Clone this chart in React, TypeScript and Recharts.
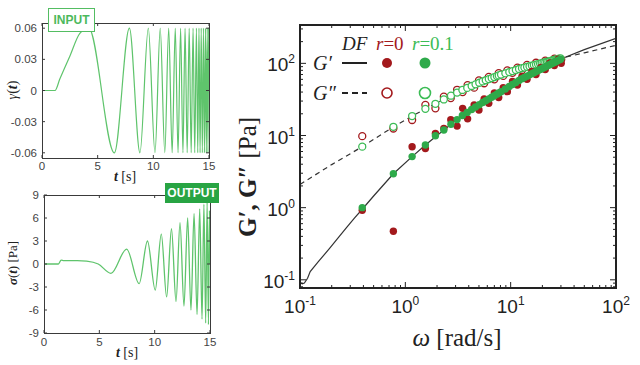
import {
  LineChart,
  Line,
  ScatterChart,
  Scatter,
  XAxis,
  YAxis,
} from 'recharts'

const SANS = '"Liberation Sans", Arial, sans-serif'
const SERIF = '"Liberation Serif", "Times New Roman", serif'

const TRACE = '#5fc46c'
const FRAME = '#3a3a3a'
const INK = '#222'
const RED = '#a3191c'
const GREEN = '#2eaa4a'
const GREEN_RING = '#3cbc55'

// imposed strain γ(t), chirp
const strainT = [
  0, 1.17, 1.6, 2.5, 3.4, 4.2, 6.5, 7.85, 8.8, 9.55, 10.15, 10.62, 11.03, 11.38, 11.69, 11.97,
  12.22, 12.45, 12.66, 12.85, 13.04, 13.22, 13.4, 13.57, 13.72, 13.87, 13.99, 14.1, 14.2, 14.3,
  14.4, 14.5, 14.59, 14.68, 14.76, 14.84, 14.91, 14.97, 15.0,
]
const strainV = [
  0, 0, 0.011, 0.033, 0.055, 0.06, -0.06, 0.06, -0.06, 0.06, -0.06, 0.06, -0.06, 0.06, -0.06, 0.06,
  -0.06, 0.06, -0.06, 0.06, -0.06, 0.06, -0.06, 0.06, -0.06, 0.06, -0.06, 0.06, -0.06, 0.06,
  -0.06, 0.06, -0.06, 0.06, -0.06, 0.06, -0.06, 0.06, 0,
]

// measured stress σ(t) [Pa]
const stressT = [
  0, 1.3, 1.55, 1.8, 3.0, 3.85, 4.9, 6.05, 7.47, 8.6, 9.35, 10.05, 10.6, 11.08, 11.52, 11.93,
  12.29, 12.65, 12.98, 13.28, 13.56, 13.83, 14.07, 14.28, 14.45, 14.61, 14.74, 14.86, 14.95, 15.0,
]
const stressV = [
  0, 0, 0.5, 0.45, 0.45, 0.38, 0, -1.22, 1.95, -2.55, 3.0, -3.4, 3.9, -4.3, 4.6, -4.9,
  5.4, -5.5, 6.0, -6.0, 6.6, -6.6, 7.2, -7.2, 7.8, -7.7, 8.1, -7.9, 7.0, 0,
]

const timeTicks = [0, 5, 10, 15]
const strainTicks = [-0.06, -0.03, 0, 0.03, 0.06]
const stressTicks = [-9, -6, -3, 0, 3, 6, 9]

// moduli from the chirp, r = 0.1
const omegaR01 = [
  0.39, 0.77, 1.16, 1.55, 1.93, 2.32, 2.71, 3.1, 3.48, 3.87, 4.26, 4.64, 5.03, 5.42, 5.8, 6.2,
  6.6, 7.0, 7.4, 7.7, 8.1, 8.9, 9.7, 10.4, 11.2, 12.0, 12.8, 13.5, 14.3, 15.1, 15.9, 16.6, 17.4,
  18.2, 19.0, 19.7, 20.5, 21.3, 22.1, 22.8, 23.6, 24.4, 25.2, 25.9, 26.7, 27.5, 28.3, 29.0, 29.8,
]
const gpR01 = [
  1.0, 2.95, 5.1, 7.4, 9.9, 11.9, 14.3, 16.6, 18.9, 20.9, 22.9, 24.8, 26.7, 28.6, 30.3, 32.1,
  33.9, 35.6, 37.4, 38.8, 40.5, 44.1, 47.8, 50.8, 54.4, 58.0, 61.2, 63.7, 66.5, 69.3, 72.0, 74.3,
  77.1, 79.6, 82.2, 84.3, 86.9, 89.3, 91.7, 93.9, 96.3, 98.6, 101.0, 103.0, 105.5, 107.7, 110.0,
  111.8, 114.0,
]
const gppR01 = [
  7.0, 13.2, 18.6, 23.4, 27.5, 31.6, 35.6, 39.4, 42.8, 45.7, 48.5, 51.2, 53.8, 56.2, 58.3, 60.5,
  62.6, 64.6, 66.6, 68.1, 69.8, 72.8, 75.8, 78.2, 80.9, 83.5, 85.8, 87.5, 89.4, 91.2, 93.0, 94.5,
  96.2, 97.7, 99.3, 100.6, 102.1, 103.6, 105.0, 106.2, 107.6, 108.9, 110.2, 111.3, 112.6, 113.8,
  115.0, 116.0, 117.3,
]

// moduli from the chirp, r = 0
const omegaR0 = [
  0.39, 0.77, 1.16, 1.55, 1.93, 2.32, 2.7, 3.1, 3.5, 3.9, 4.5, 5.0, 5.6, 6.2, 7.0, 7.7, 8.5, 9.3,
  10.4, 11.6, 12.8, 14.3, 15.9, 17.4, 19.4, 21.3, 23.6, 26.0, 28.3, 30.2,
]
const gpR0 = [
  0.92, 0.47, 7.0, 6.6, 10.7, 12.5, 16.5, 13.5, 23.8, 17.0, 26.5, 22.6, 32, 27.9, 39, 33.5, 46,
  40.5, 56, 50, 66, 60, 77, 70, 88, 82, 101, 93, 114, 100,
]
const gppR0 = [
  9.8, 12.5, 16.4, 26.5, 23.8, 34.5, 33, 43, 40, 50, 46, 58, 53, 65, 60, 73, 67, 80, 74, 87, 81,
  95, 88, 102, 95, 109, 102, 116, 108, 113,
]

// discrete frequency sweep (DF) reference
const dfOmegaGp = [
  0.1, 0.105, 0.11, 0.118, 0.125, 0.15, 0.19, 0.23, 0.28, 0.33, 0.39, 0.5, 0.77, 1.16, 1.55, 2.32,
  3.34, 5.2, 8, 12.5, 19.3, 30, 50, 100,
]
const dfGp = [
  0.092, 0.088, 0.09, 0.105, 0.13, 0.18, 0.27, 0.38, 0.54, 0.72, 0.95, 1.45, 2.95, 5.1, 7.4, 11.9,
  18.2, 27.5, 40, 60, 83, 115, 155, 222,
]
const dfOmegaGpp = [0.1, 0.2, 0.39, 0.77, 1.16, 1.55, 2.32, 3.34, 5.2, 8, 12.5, 19.3, 30, 50, 100]
const dfGpp = [2.1, 3.95, 7.0, 13.2, 18.6, 23.4, 31.6, 41.7, 55, 69, 85, 100, 118, 140, 178]

const omegaTicks = [
  0.1, 0.2, 0.3, 0.4, 0.5, 0.6, 0.7, 0.8, 0.9, 1, 2, 3, 4, 5, 6, 7, 8, 9, 10, 20, 30, 40, 50, 60,
  70, 80, 90, 100,
]
const modulusTicks = [
  0.08, 0.09, 0.1, 0.2, 0.3, 0.4, 0.5, 0.6, 0.7, 0.8, 0.9, 1, 2, 3, 4, 5, 6, 7, 8, 9, 10, 20, 30,
  40, 50, 60, 70, 80, 90, 100, 200, 300,
]

const series = (t: number[], v: number[]) => t.map((x, i) => ({ t: x, v: v[i] }))
const points = (w: number[], g: number[]) => w.map((x, i) => ({ w: x, g: g[i] }))

type TickProps = { x: number; y: number; payload: { value: number } }

// inward ticks on both sides of the frame, labels outside
const timeXTick = (plotH: number, labelDy: number) => ({ x, y, payload }: TickProps) => (
  <g>
    <line x1={x} x2={x} y1={y} y2={y - 3} stroke={FRAME} />
    <line x1={x} x2={x} y1={y - plotH} y2={y - plotH + 3} stroke={FRAME} />
    <text x={x} y={y + labelDy} textAnchor="middle" fontFamily={SANS} fontSize={11.5} fill="#444">
      {payload.value}
    </text>
  </g>
)

const timeYTick = (plotW: number) => ({ x, y, payload }: TickProps) => (
  <g>
    <line x1={x} x2={x + 3} y1={y} y2={y} stroke={FRAME} />
    <line x1={x + plotW} x2={x + plotW - 3} y1={y} y2={y} stroke={FRAME} />
    <text x={x - 5} y={y + 4} textAnchor="end" fontFamily={SANS} fontSize={11.5} fill="#444">
      {payload.value}
    </text>
  </g>
)

const LOG_W = 316
const LOG_H = 263

const decade = (v: number) => {
  const e = Math.round(Math.log10(v))
  return Math.abs(Math.log10(v) - e) < 1e-6 ? e : null
}

const logXTick = ({ x, y, payload }: TickProps) => {
  const e = decade(payload.value)
  const len = e === null ? 3 : 6
  return (
    <g>
      <line x1={x} x2={x} y1={y} y2={y - len} stroke={INK} />
      <line x1={x} x2={x} y1={y - LOG_H} y2={y - LOG_H + len} stroke={INK} />
      {e !== null && (
        <text x={x} y={y + 25} textAnchor="middle" fontFamily={SANS} fontSize={19} fill={INK}>
          10
          <tspan dy={-8} fontSize={12}>
            {e}
          </tspan>
        </text>
      )}
    </g>
  )
}

const logYTick = ({ x, y, payload }: TickProps) => {
  const e = decade(payload.value)
  const len = e === null ? 3 : 6
  return (
    <g>
      <line x1={x} x2={x + len} y1={y} y2={y} stroke={INK} />
      <line x1={x + LOG_W} x2={x + LOG_W - len} y1={y} y2={y} stroke={INK} />
      {e !== null && (
        <text x={x - 5} y={y + 8} textAnchor="end" fontFamily={SANS} fontSize={19} fill={INK}>
          10
          <tspan dy={-8} fontSize={12}>
            {e}
          </tspan>
        </text>
      )}
    </g>
  )
}

const dot = (fill: string) => (p: any) => <circle cx={p.cx} cy={p.cy} r={3.7} fill={fill} />
const ring = (stroke: string) => (p: any) => (
  <circle cx={p.cx} cy={p.cy} r={3.5} fill="#fff" stroke={stroke} strokeWidth={1.3} />
)
const none = () => <g />

function StrainChart() {
  return (
    <LineChart
      width={220}
      height={185}
      data={series(strainT, strainV)}
      margin={{ top: 23, right: 11, bottom: 0, left: 0 }}
    >
      <XAxis
        type="number"
        dataKey="t"
        domain={[0, 15]}
        ticks={timeTicks}
        interval={0}
        height={27}
        tickSize={0}
        tickMargin={0}
        tickLine={false}
        axisLine={false}
        tick={timeXTick(135, 12)}
      />
      <YAxis
        type="number"
        domain={[-0.065, 0.065]}
        ticks={strainTicks}
        interval={0}
        width={42}
        tickSize={0}
        tickMargin={0}
        tickLine={false}
        axisLine={false}
        tick={timeYTick(167)}
      />
      <Line
        type="monotone"
        dataKey="v"
        stroke={TRACE}
        strokeWidth={1.2}
        dot={false}
        isAnimationActive={false}
      />
    </LineChart>
  )
}

function StressChart() {
  return (
    <LineChart
      width={220}
      height={180}
      data={series(stressT, stressV)}
      margin={{ top: 10, right: 10, bottom: 0, left: 0 }}
    >
      <XAxis
        type="number"
        dataKey="t"
        domain={[0, 15]}
        ticks={timeTicks}
        interval={0}
        height={32}
        tickSize={0}
        tickMargin={0}
        tickLine={false}
        axisLine={false}
        tick={timeXTick(138, 13)}
      />
      <YAxis
        type="number"
        domain={[-9, 9]}
        ticks={stressTicks}
        interval={0}
        width={44}
        tickSize={0}
        tickMargin={0}
        tickLine={false}
        axisLine={false}
        tick={timeYTick(166)}
      />
      <Line
        type="monotone"
        dataKey="v"
        stroke={TRACE}
        strokeWidth={1.3}
        dot={false}
        isAnimationActive={false}
      />
    </LineChart>
  )
}

function ModulusChart() {
  return (
    <ScatterChart width={410} height={365} margin={{ top: 25, right: 24, bottom: 0, left: 0 }}>
      <XAxis
        type="number"
        dataKey="w"
        scale="log"
        domain={[0.1, 100]}
        allowDataOverflow
        ticks={omegaTicks}
        interval={0}
        height={77}
        tickSize={0}
        tickMargin={0}
        tickLine={false}
        axisLine={false}
        tick={logXTick}
      />
      <YAxis
        type="number"
        dataKey="g"
        scale="log"
        domain={[0.077, 340]}
        allowDataOverflow
        ticks={modulusTicks}
        interval={0}
        width={70}
        tickSize={0}
        tickMargin={0}
        tickLine={false}
        axisLine={false}
        tick={logYTick}
      />
      <Scatter
        data={points(dfOmegaGpp, dfGpp)}
        line={{ stroke: '#333', strokeWidth: 1.2, strokeDasharray: '5 4' }}
        shape={none}
        isAnimationActive={false}
      />
      <Scatter
        data={points(dfOmegaGp, dfGp)}
        line={{ stroke: '#333', strokeWidth: 1.2 }}
        shape={none}
        isAnimationActive={false}
      />
      <Scatter data={points(omegaR0, gppR0)} shape={ring(RED)} isAnimationActive={false} />
      <Scatter data={points(omegaR01, gppR01)} shape={ring(GREEN_RING)} isAnimationActive={false} />
      <Scatter data={points(omegaR0, gpR0)} shape={dot(RED)} isAnimationActive={false} />
      <Scatter data={points(omegaR01, gpR01)} shape={dot(GREEN)} isAnimationActive={false} />
    </ScatterChart>
  )
}

// key drawn in the upper-left corner of the moduli frame
function ModulusKey() {
  return (
    <svg width={200} height={90} style={{ position: 'absolute', left: 300, top: 25 }}>
      <g fontFamily={SERIF} fontSize={19}>
        <text x={42} y={25} fill={INK} fontStyle="italic">
          DF
        </text>
        <text x={76} y={25} fill={RED}>
          <tspan fontStyle="italic">r</tspan>=0
        </text>
        <text x={112} y={25} fill={GREEN_RING}>
          <tspan fontStyle="italic">r</tspan>=0.1
        </text>
        <text x={13} y={45} fill={INK} fontStyle="italic" fontSize={20}>
          G′
        </text>
        <text x={13} y={75} fill={INK} fontStyle="italic" fontSize={20}>
          G″
        </text>
      </g>
      <line x1={42} x2={67} y1={38} y2={38} stroke={INK} strokeWidth={2} />
      <circle cx={87} cy={38} r={5} fill={RED} />
      <circle cx={125} cy={38} r={5.5} fill={GREEN} />
      <line x1={42} x2={67} y1={68} y2={68} stroke={INK} strokeWidth={2} strokeDasharray="6 4" />
      <circle cx={87} cy={68} r={5} fill="#fff" stroke={RED} strokeWidth={1.6} />
      <circle cx={125} cy={68} r={5.5} fill="#fff" stroke={GREEN_RING} strokeWidth={1.6} />
    </svg>
  )
}

// plot frames around the three panels
const frame = (left: number, top: number, width: number, height: number, border: string) => (
  <div
    style={{
      position: 'absolute',
      left,
      top,
      width,
      height,
      boxSizing: 'border-box',
      border,
      pointerEvents: 'none',
    }}
  />
)

const centered = (left: number, top: number, rotate = false): React.CSSProperties => ({
  position: 'absolute',
  left,
  top,
  transform: `translate(-50%, -50%)${rotate ? ' rotate(-90deg)' : ''}`,
  whiteSpace: 'nowrap',
  fontFamily: SERIF,
  color: INK,
  lineHeight: 1,
})

export default function App() {
  return (
    <div
      style={{
        position: 'absolute',
        left: 0,
        top: 0,
        width: 640,
        height: 365,
        background: '#fff',
        overflow: 'hidden',
      }}
    >
      <div style={{ position: 'absolute', left: 0, top: 0 }}>
        <StrainChart />
      </div>
      <div style={{ position: 'absolute', left: 0, top: 185 }}>
        <StressChart />
      </div>
      <div style={{ position: 'absolute', left: 230, top: 0 }}>
        <ModulusChart />
      </div>
      <ModulusKey />

      {frame(42, 23, 168, 136, `1px solid ${FRAME}`)}
      {frame(44, 195, 167, 139, `1px solid ${FRAME}`)}
      {frame(299, 24, 318, 265, `2px solid ${INK}`)}

      <div style={{ ...centered(13, 90, true), fontSize: 14 }}>
        <i>γ</i>(<b><i>t</i></b>)
      </div>
      <div style={{ ...centered(125, 177), fontSize: 14 }}>
        <b><i>t</i></b> [s]
      </div>
      <div style={{ ...centered(12, 263, true), fontSize: 13 }}>
        <b><i>σ</i></b>(<b><i>t</i></b>) [Pa]
      </div>
      <div style={{ ...centered(127, 353), fontSize: 14 }}>
        <b><i>t</i></b> [s]
      </div>
      <div style={{ ...centered(247, 177, true), fontSize: 25 }}>
        <b>G′, G″</b> [Pa]
      </div>
      <div style={{ ...centered(457, 337), fontSize: 25 }}>
        <i>ω</i> [rad/s]
      </div>

      <div
        style={{
          position: 'absolute',
          left: 48,
          top: 8,
          width: 47,
          height: 24,
          boxSizing: 'border-box',
          border: '1.5px solid #53bd62',
          background: '#fff',
          color: '#4cb95c',
          fontFamily: SANS,
          fontWeight: 'bold',
          fontSize: 12,
          display: 'flex',
          alignItems: 'center',
          justifyContent: 'center',
        }}
      >
        INPUT
      </div>
      <div
        style={{
          position: 'absolute',
          left: 165,
          top: 183,
          width: 54,
          height: 20,
          background: '#28a443',
          color: '#fff',
          fontFamily: SANS,
          fontWeight: 'bold',
          fontSize: 12,
          display: 'flex',
          alignItems: 'center',
          justifyContent: 'center',
        }}
      >
        OUTPUT
      </div>
    </div>
  )
}
